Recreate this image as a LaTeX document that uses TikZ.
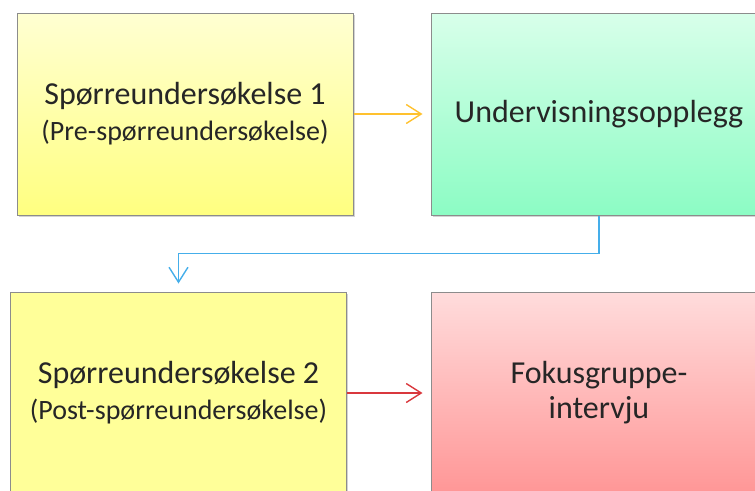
\documentclass[tikz,border=0pt]{standalone}
\usepackage{fontspec}
\setmainfont{Carlito}
\usetikzlibrary{calc,arrows.meta,shadows}

\definecolor{textgray}{HTML}{262626}
\definecolor{boxline}{HTML}{8C8C8C}
\definecolor{arrowyellow}{HTML}{FFC12E}
\definecolor{arrowblue}{HTML}{45AEEA}
\definecolor{arrowred}{HTML}{D9383D}
\tikzset{
  box/.style = {draw = boxline, line width = 1pt, minimum width = 336pt, minimum height = 202pt,
    align = center, text = textgray, font = \fontsize{32}{35}\selectfont,
    drop shadow = {shadow xshift = 1.5pt, shadow yshift = -2pt, opacity = 0.35}},
  link/.style = {line width = 1.4pt, -{Straight Barb[length = 15pt, width = 19pt, line width = 1.4pt]}, shorten > = 8pt}
}

\begin{document}
\begin{tikzpicture}[x = 1pt, y = -1pt]
        % frame
        \useasboundingbox (0,0) rectangle (755,490);
        \clip (0,0) rectangle (755,490);
        % boxes
        \node[box, top color = {rgb,255:red,255;green,255;blue,210}, bottom color = {rgb,255:red,255;green,255;blue,128}](S1) at (185,114)
            {Spørreundersøkelse 1\\[1pt]{\fontsize{28}{33}\selectfont(Pre-spørreundersøkelse)}};
        \node[box, top color = {rgb,255:red,216;green,255;blue,234}, bottom color = {rgb,255:red,140;green,252;blue,196}](U) at (599,114)
            {Undervisningsopplegg};
        \node[box, fill = {rgb,255:red,255;green,255;blue,153}](S2) at (178.5,393)
            {Spørreundersøkelse 2\\[1pt]{\fontsize{28}{33}\selectfont(Post-spørreundersøkelse)}};
        \node[box, top color = {rgb,255:red,255;green,220;blue,220}, bottom color = {rgb,255:red,255;green,150;blue,150}](F) at (599,393)
            {Fokusgruppe-\\intervju};
        % arrows
        \coordinate (K) at ($(S2.north)+(0,-38)$);
        \path[draw, link, arrowyellow](S1.east)to(U.west);
        \path[draw, link, arrowblue](U.south)|-(K)to(S2.north);
        \path[draw, link, arrowred](S2.east|-F.west)to(F.west);
    \end{tikzpicture}
\end{document}
